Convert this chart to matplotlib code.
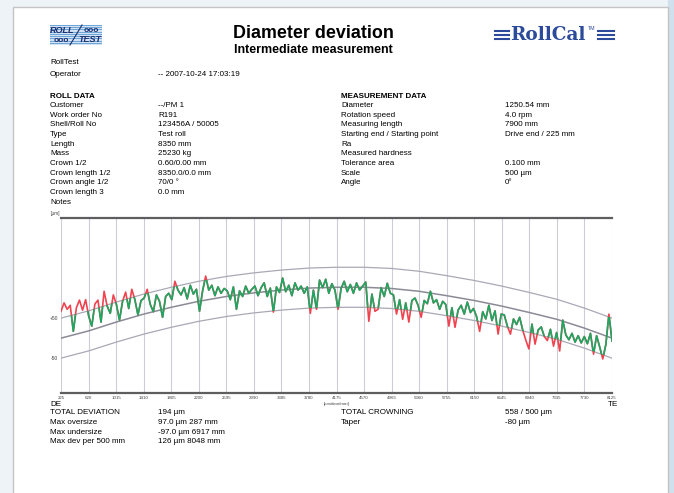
import numpy as np
import matplotlib
matplotlib.use('Agg')
import matplotlib.pyplot as plt
from matplotlib.patches import Rectangle

plt.rcParams['font.family'] = ['Liberation Sans', 'DejaVu Sans']

# ---------------- data ----------------
tick_positions = [225, 620, 1015, 1410, 1805, 2200, 2595, 2990, 3385, 3780, 4175,
                  4570, 4965, 5360, 5755, 6150, 6545, 6940, 7335, 7730, 8125]
# nominal crown profile (µm) at the tick positions
crown_um = [0, 18, 40, 60, 77, 92, 104, 113, 120, 125, 127,
            127, 124, 117, 106, 94, 80, 64, 47, 25, 0]
tolerance_um = 50

# measured diameter deviation (µm), equally spaced from 225 to 8125 mm
deviation_um = [
    67, 88, 72, 82, 17, 76, 95, 70, 96,
    55, 30, 85, 95, 40, 117, 80, 62, 108,
    84, 45, 92, 115, 74, 122, 96, 58, 94,
    100, 122, 84, 66, 108, 92, 52, 104, 112,
    96, 142, 120, 108, 126, 98, 132, 110, 122,
    67, 118, 155, 120, 132, 106, 128, 112, 124,
    118, 96, 128, 72, 118, 104, 130, 112, 122,
    130, 106, 126, 138, 104, 125, 65, 128, 114,
    150, 116, 132, 106, 138, 120, 130, 112, 128,
    62, 120, 72, 145, 126, 147, 112, 136, 120,
    72, 124, 142, 116, 134, 112, 138, 120, 130,
    140, 42, 110, 67, 72, 126, 104, 137, 112,
    108, 60, 96, 47, 88, 40, 94, 100, 82,
    52, 94, 86, 117, 88, 96, 72, 92, 84,
    30, 76, 27, 70, 82, 60, 90, 64, 74,
    54, 17, 66, 48, 82, 44, 68, 10, 60,
    58, 30, 10, 48, 34, 52, 20, -5, -27,
    35, -15, 20, 28, 4, -6, 22, -20, 14,
    -32, 45, 8, -4, 12, -10, 6, -12, 4,
    -14, 12, -40, 6, -22, -52, -16, 60, -7,
]
positions_mm = np.linspace(tick_positions[0], tick_positions[-1], len(deviation_um))

roll_labels = ['Customer', 'Work order No', 'Shell/Roll No', 'Type', 'Length', 'Mass',
               'Crown 1/2', 'Crown length 1/2', 'Crown angle 1/2', 'Crown length 3', 'Notes']
roll_values = ['--/PM 1', 'R191', '123456A / 50005', 'Test roll', '8350 mm', '25230 kg',
               '0.60/0.00 mm', '8350.0/0.0 mm', '70/0 °', '0.0 mm', '']
meas_labels = ['Diameter', 'Rotation speed', 'Measuring length', 'Starting end / Starting point',
               'Ra', 'Measured hardness', 'Tolerance area', 'Scale', 'Angle']
meas_values = ['1250.54 mm', '4.0 rpm', '7900 mm', 'Drive end / 225 mm',
               '', '', '0.100 mm', '500 µm', '0°']
result_left = [('TOTAL DEVIATION', '194 µm'), ('Max oversize', '97.0 µm 287 mm'),
               ('Max undersize', '-97.0 µm 6917 mm'), ('Max dev per 500 mm', '126 µm 8048 mm')]
result_right = [('TOTAL CROWNING', '558 / 500 µm'), ('Taper', '-80 µm')]

# ---------------- figure ----------------
W, H = 674, 493
fig = plt.figure(figsize=(W / 100, H / 100), dpi=100)

bg = fig.add_axes([0, 0, 1, 1])
bg.set_xlim(0, W)
bg.set_ylim(H, 0)
bg.axis('off')
bg.add_patch(Rectangle((0, 0), W, H, color='#eef3f8', zorder=0))
bg.add_patch(Rectangle((668, 0), 6, H, color='#d0e0ed', zorder=0))
bg.add_patch(Rectangle((13, 7), 655, 490, facecolor='white', edgecolor='#c4c4c4', lw=1, zorder=1))

# RollTest logo
bg.add_patch(Rectangle((50, 25), 52, 20, facecolor='#6fa6d8', edgecolor='none', zorder=2))
for yy in np.arange(26, 45, 1.8):
    bg.plot([50, 102], [yy, yy], color='white', lw=0.5, zorder=3)
bg.plot([70, 82], [45, 25], color='#1c2f6e', lw=0.8, zorder=4)
bg.text(62, 30.5, 'ROLL', fontsize=6.5, fontweight='bold', style='italic', color='#1c2f6e',
        ha='center', va='center', zorder=5)
bg.text(90, 40, 'TEST', fontsize=6.5, fontweight='bold', style='italic', color='#1c2f6e',
        ha='center', va='center', zorder=5)
bg.text(91, 30.5, 'ooo', fontsize=6, fontweight='bold', color='#1c2f6e', ha='center', va='center', zorder=5)
bg.text(61, 40, 'ooo', fontsize=6, fontweight='bold', color='#1c2f6e', ha='center', va='center', zorder=5)

# RollCal logo
navy = '#2c4a9a'
for yy in (30.5, 34.5, 38.5):
    bg.plot([495, 509], [yy, yy], color=navy, lw=1.5, zorder=3)
    bg.plot([598, 614], [yy, yy], color=navy, lw=1.5, zorder=3)
bg.text(510, 35, 'RollCal', family='DejaVu Serif', fontweight='bold', fontsize=13.3,
        color=navy, ha='left', va='center', zorder=4)
bg.text(588, 28.5, 'TM', fontsize=3.8, color=navy, ha='left', va='center', zorder=4)

# titles
bg.text(313, 34, 'Diameter deviation', fontsize=12.9, fontweight='bold', ha='center', va='center', zorder=4)
bg.text(313, 50, 'Intermediate measurement', fontsize=9.0, fontweight='bold', ha='center', va='center', zorder=4)

fs = 5.8
bg.text(50, 63, 'RollTest', fontsize=fs, va='center', zorder=4)
bg.text(50, 74, 'Operator', fontsize=fs, va='center', zorder=4)
bg.text(158, 74, '-- 2007-10-24 17:03:19', fontsize=fs, va='center', zorder=4)

bg.text(50, 96, 'ROLL DATA', fontsize=fs, fontweight='bold', va='center', zorder=4)
bg.text(341, 96, 'MEASUREMENT DATA', fontsize=fs, fontweight='bold', va='center', zorder=4)
row0, dy = 105.5, 9.67
for k, (lab, val) in enumerate(zip(roll_labels, roll_values)):
    bg.text(50, row0 + k * dy, lab, fontsize=fs, va='center', zorder=4)
    bg.text(158, row0 + k * dy, val, fontsize=fs, va='center', zorder=4)
for k, (lab, val) in enumerate(zip(meas_labels, meas_values)):
    bg.text(341, row0 + k * dy, lab, fontsize=fs, va='center', zorder=4)
    bg.text(505, row0 + k * dy, val, fontsize=fs, va='center', zorder=4)

for k, (lab, val) in enumerate(result_left):
    bg.text(50, 413 + k * 9.5, lab, fontsize=fs, va='center', zorder=4)
    bg.text(158, 413 + k * 9.5, val, fontsize=fs, va='center', zorder=4)
for k, (lab, val) in enumerate(result_right):
    bg.text(341, 413 + k * 9.5, lab, fontsize=fs, va='center', zorder=4)
    bg.text(505, 413 + k * 9.5, val, fontsize=fs, va='center', zorder=4)

bg.text(50, 405, 'DE', fontsize=fs, va='center', zorder=4)
bg.text(608, 405, 'TE', fontsize=fs, va='center', zorder=4)
bg.text(51, 214, '[µm]', fontsize=3.4, va='center', color='#444444', zorder=4)
bg.text(337, 403.5, '[position/mm]', fontsize=3.2, ha='center', va='center', color='#444444', zorder=4)

# ---------------- chart ----------------
ax = fig.add_axes([61 / W, 1 - 393 / H, 551 / W, 175 / H])
ax.set_facecolor('none')
ax.set_xlim(tick_positions[0], tick_positions[-1])
ax.set_ylim(-137, 300)
for xt in tick_positions:
    ax.axvline(xt, color='#cdcdd6', lw=0.8, zorder=0)
for s in ('left', 'right'):
    ax.spines[s].set_visible(False)
for s in ('top', 'bottom'):
    ax.spines[s].set_color('#5e5e5e')
    ax.spines[s].set_linewidth(1.6)

ax.set_xticks(tick_positions)
ax.set_xticklabels([str(t) for t in tick_positions], fontsize=3.2, color='#444444')
ax.set_yticks([tolerance_um, -tolerance_um])
ax.set_yticklabels(['+50', '-50'], fontsize=3.6, color='#444444')
ax.tick_params(length=0, pad=2)

crown = np.array(crown_um, dtype=float)
ax.plot(tick_positions, crown + tolerance_um, color='#a9a9b6', lw=0.9, zorder=2)
ax.plot(tick_positions, crown, color='#8b8b97', lw=1.1, zorder=2)
ax.plot(tick_positions, crown - tolerance_um, color='#a9a9b6', lw=0.9, zorder=2)

red, green = '#ef4450', '#1aa862'
ax.plot(positions_mm, deviation_um, color=red, lw=1.2, zorder=3)
gline, = ax.plot(positions_mm, deviation_um, color=green, lw=1.2, zorder=4)
band = ax.fill_between(tick_positions, crown - tolerance_um, crown + tolerance_um,
                       facecolor='none', edgecolor='none')
gline.set_clip_path(band.get_paths()[0], ax.transData)

fig.savefig('out.png', dpi=100)
